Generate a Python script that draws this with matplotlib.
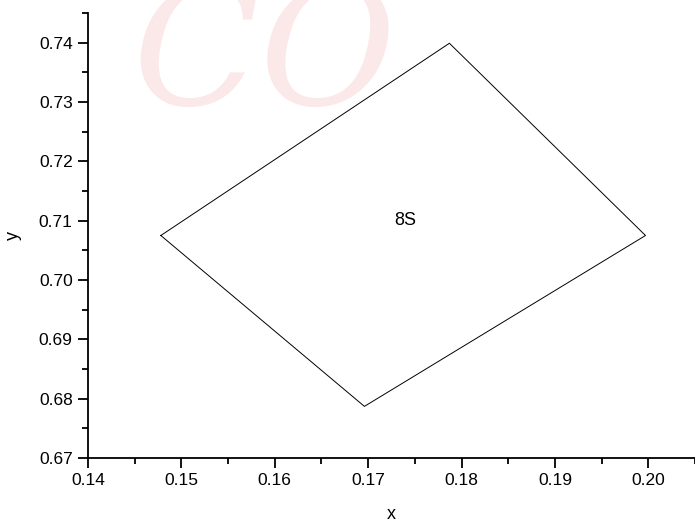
import numpy as np
import matplotlib.pyplot as plt
from matplotlib.ticker import MultipleLocator

plt.rcParams['font.family'] = ['Liberation Sans', 'DejaVu Sans']

# corner points of the 8S region (closed polygon)
x_pts = [0.1478, 0.1787, 0.1997, 0.1696, 0.1478]
y_pts = [0.7075, 0.7399, 0.7075, 0.6787, 0.7075]
region_label = '8S'
label_xy = (0.1740, 0.7101)

fig = plt.figure(figsize=(6.95, 5.23), dpi=100)
ax = fig.add_axes([88/695, 65/523, 607/695, 445/523])

# faint watermark behind the plot
fig.text(0.19, 1.04, 'CO', fontsize=120, family='DejaVu Serif', style='italic',
         color='#e0303a', alpha=0.11, va='top', ha='left', zorder=0)

ax.plot(x_pts, y_pts, color='black', lw=0.7)
ax.text(label_xy[0], label_xy[1], region_label, fontsize=13, ha='center', va='center')

ax.set_xlim(0.14, 0.205)
ax.set_ylim(0.67, 0.745)
ax.xaxis.set_minor_locator(MultipleLocator(0.005))
ax.yaxis.set_minor_locator(MultipleLocator(0.005))
ax.set_xticks(np.arange(0.14, 0.2001, 0.01))
ax.set_xticklabels(['0.14', '0.15', '0.16', '0.17', '0.18', '0.19', '0.20'])
ax.set_yticks(np.arange(0.67, 0.7401, 0.01))
ax.set_yticklabels(['0.67', '0.68', '0.69', '0.70', '0.71', '0.72', '0.73', '0.74'])

for s in ['top', 'right']:
    ax.spines[s].set_visible(False)
for s in ['left', 'bottom']:
    ax.spines[s].set_linewidth(1.3)
ax.tick_params(which='major', direction='out', length=7, width=1.3, labelsize=12.5, pad=4)
ax.tick_params(which='minor', direction='out', length=4, width=1.3)
ax.patch.set_alpha(0)

ax.set_xlabel('x', fontsize=13, labelpad=13)
ax.set_ylabel('y', fontsize=13, labelpad=12)

fig.savefig('out.png', dpi=100)
